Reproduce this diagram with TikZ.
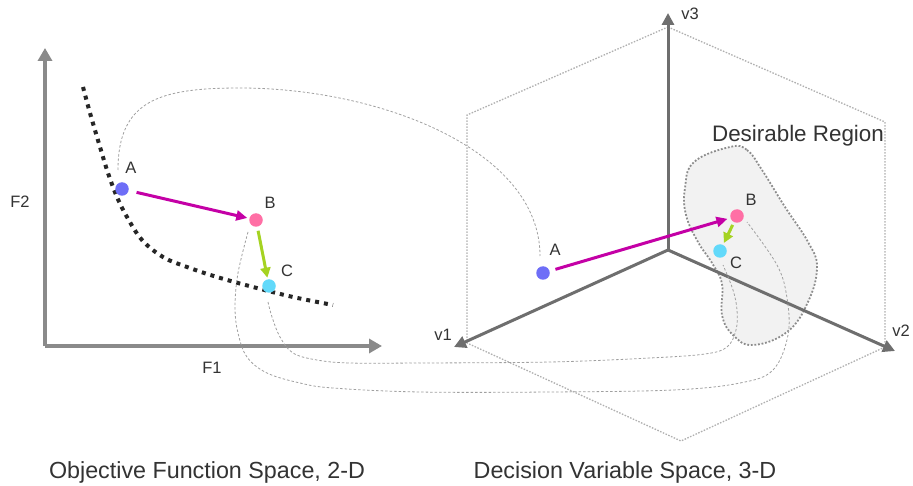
\documentclass[tikz,border=0pt]{standalone}
\usepackage{fontspec}
\setmainfont{Liberation Sans}
\usetikzlibrary{arrows.meta}
\definecolor{cA}{HTML}{6E6EF7}
\definecolor{cB}{HTML}{FF6FA5}
\definecolor{cC}{HTML}{62D9FA}
\definecolor{cMag}{HTML}{C400A6}
\definecolor{cGrn}{HTML}{A5D322}
\definecolor{axL}{HTML}{8A8A8A}
\definecolor{axR}{HTML}{6E6E6E}
\definecolor{txt}{HTML}{333333}
\definecolor{hexc}{HTML}{B0B0B0}
\definecolor{conc}{HTML}{A0A0A0}
\definecolor{blobfill}{HTML}{F2F2F2}
\definecolor{blobline}{HTML}{8C8C8C}
\begin{document}
\begin{tikzpicture}[x=1pt,y=-1pt,
  dot/.style={circle,inner sep=0pt,minimum size=13.5pt,draw=none},
  lbl/.style={text=txt,inner sep=0pt,font=\fontsize{16.5}{19}\selectfont},
  ttl/.style={text=txt,inner sep=0pt,anchor=base,font=\fontsize{23.3}{28}\selectfont},
  axisL/.style={draw=axL,line width=4pt,-{Triangle[length=13pt,width=14pt]}},
  axisR/.style={draw=axR,line width=3pt,-{Triangle[length=12pt,width=12pt]}},
  magarrow/.style={draw=cMag,line width=3pt,-{Triangle[length=11pt,width=10pt]}},
  grnarrow/.style={draw=cGrn,line width=3pt,-{Triangle[length=10pt,width=10pt]}},
  hexline/.style={draw=hexc,line width=1.3pt,dash pattern=on 1.5pt off 1.5pt},
  conline/.style={draw=conc,line width=0.8pt,dash pattern=on 2.5pt off 2pt},
  front/.style={draw=black!85,line width=4pt,dash pattern=on 4pt off 5pt}
]
\useasboundingbox (0,0) rectangle (913,486);
\fill[white] (0,0) rectangle (913,486);

% ---------- right panel: hexagon ----------
\coordinate (h1) at (668,27);
\coordinate (h2) at (885,122);
\coordinate (h3) at (885,347);
\coordinate (h4) at (681,441);
\coordinate (h5) at (467,343);
\coordinate (h6) at (467,115);
\draw[hexline] (h1) -- (h2) -- (h3) -- (h4) -- (h5) -- (h6) -- cycle;

% desirable region
\fill[blobfill] plot[smooth cycle,tension=0.7] coordinates {(730,147) (747,150) (762,170) (785,207) (808,242) (817,267) (808,302) (787,332) (753,345) (733,335) (722,315) (722,284) (712,263) (698,242) (686,215) (685,188) (694,162)};
\draw[blobline,line width=1.8pt,dash pattern=on 1.8pt off 1.8pt] plot[smooth cycle,tension=0.7] coordinates {(730,147) (747,150) (762,170) (785,207) (808,242) (817,267) (808,302) (787,332) (753,345) (733,335) (722,315) (722,284) (712,263) (698,242) (686,215) (685,188) (694,162)};
\node[inner sep=0pt,anchor=base,text=txt,font=\fontsize{22.4}{26}\selectfont] (dr) at (798,142) {Desirable Region};

% axes right
\coordinate (O) at (668,250);
\coordinate (v3t) at (668,13);
\coordinate (v1t) at (454,347);
\coordinate (v2t) at (895,351);
\draw[axisR] (O) -- (v3t);
\draw[axisR] (O) -- (v1t);
\draw[axisR] (O) -- (v2t);
\node[lbl] (lv3) at (690,14) {v3};
\node[lbl] (lv1) at (443,335) {v1};
\node[lbl] (lv2) at (901,331) {v2};

% ---------- left panel ----------
\coordinate (O2) at (45,346);
\coordinate (f2t) at (45,48);
\coordinate (f1t) at (382,346);
\draw[axisL] (O2) -- (f2t);
\draw[axisL] (O2) -- (f1t);
\node[lbl] (lF2) at (20,202) {F2};
\node[lbl] (lF1) at (212,368) {F1};

\draw[front] plot[smooth,tension=0.6] coordinates {(83,87) (90,113) (100,147) (108,173) (117,197) (127,217) (142,240) (163,257) (187,267) (217,277) (253,287) (293,297) (333,305)};

% points
\node[dot,fill=cA] (A1) at (122,189) {};
\node[dot,fill=cB] (B1) at (256,220) {};
\node[dot,fill=cC] (C1) at (269,286) {};
\node[lbl] (lA1) at (131,168) {A};
\node[lbl] (lB1) at (270,203) {B};
\node[lbl] (lC1) at (287,271) {C};

\node[dot,fill=cA] (A2) at (543,273) {};
\node[dot,fill=cB] (B2) at (737,216) {};
\node[dot,fill=cC] (C2) at (720,251) {};
\node[lbl] (lA2) at (555,250) {A};
\node[lbl] (lB2) at (751,200) {B};
\node[lbl] (lC2) at (736,263) {C};

% connectors
\coordinate (cA1) at (118,170);
\coordinate (cA2) at (540,256);
\coordinate (cB1) at (248,232);
\coordinate (cB2) at (747,222);
\coordinate (cC1) at (268,302);
\coordinate (cC2) at (723,265);
\draw[conline] (cA1) .. controls (118,100) and (160,88) .. (240,88) .. controls (380,88) and (540,150) .. (cA2);
\draw[conline] plot[smooth,tension=0.6] coordinates {(cB1) (238,273) (235,307) (238,333) (247,357) (267,373) (300,383) (333,388) (420,392) (550,392) (673,390) (740,383) (773,370) (788,335) (787,298) (777,265) (cB2)};
\draw[conline] plot[smooth,tension=0.6] coordinates {(cC1) (272,317) (280,337) (293,353) (317,360) (350,363) (420,363) (550,362) (650,358) (705,354) (727,347) (736,330) (737,310) (733,290) (cC2)};

% arrows
\draw[magarrow,shorten <=8pt,shorten >=2pt] (A1) -- (B1);
\draw[grnarrow,shorten <=4pt,shorten >=1.5pt] (B1) -- (C1);
\draw[magarrow,shorten <=6pt,shorten >=3pt] (A2) -- (B2);
\draw[grnarrow,shorten <=3pt,shorten >=2pt] (B2) -- (C2);

% titles
\node[ttl] (t1) at (207,478) {Objective Function Space, 2-D};
\node[ttl] (t2) at (625,478) {Decision Variable Space, 3-D};
\end{tikzpicture}
\end{document}
